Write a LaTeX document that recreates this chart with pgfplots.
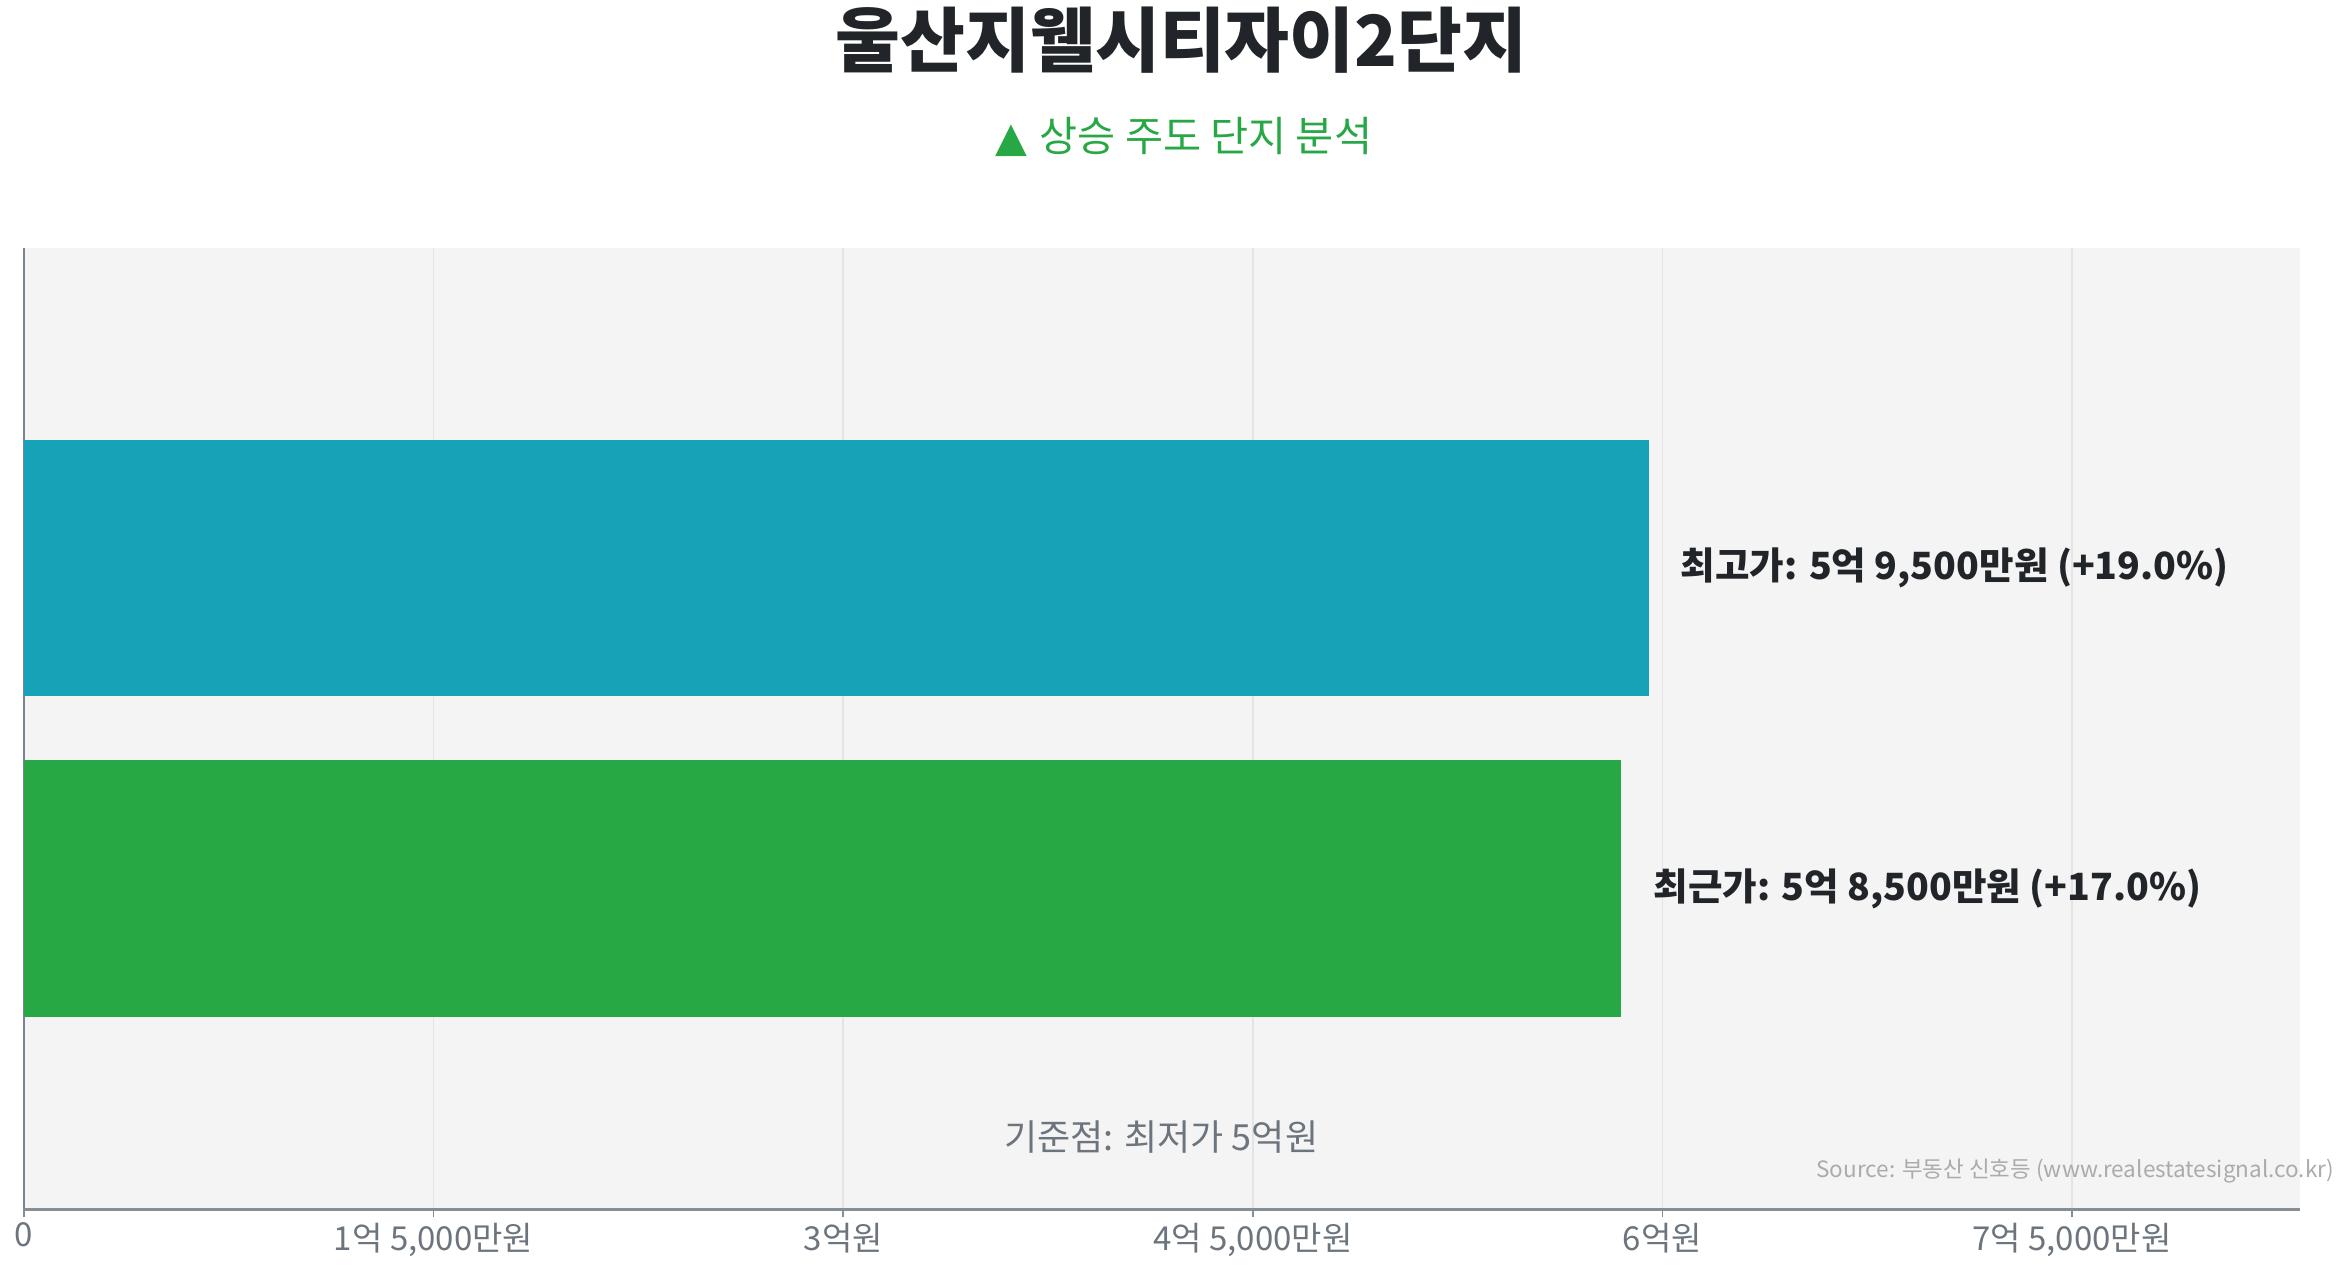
\documentclass[border=0pt]{standalone}
\usepackage{pgfplots}
\pgfplotsset{compat=1.18}
\usepackage{fontspec}
\setmainfont{Noto Sans CJK KR}
\newfontfamily\symfont{DejaVu Sans}
\definecolor{titlecol}{HTML}{212529}
\definecolor{subcol}{HTML}{28A745}
\definecolor{barteal}{HTML}{17A2B8}
\definecolor{bargreen}{HTML}{28A745}
\definecolor{bgcol}{HTML}{F4F4F4}
\definecolor{gridcol}{HTML}{E4E4E4}
\definecolor{xaxcol}{HTML}{868E96}
\definecolor{yaxcol}{HTML}{7A8391}
\definecolor{tickcol}{HTML}{6C757D}
\definecolor{srccol}{HTML}{ABABAB}
\begin{document}
\begin{tikzpicture}[x=1bp,y=1bp]
\useasboundingbox (0,0) rectangle (781.5,422.5);
\begin{axis}[
  at={(8bp,19.5bp)}, anchor=south west,
  scale only axis, width=758.5bp, height=320.5bp,
  xmin=0, xmax=8.335, ymin=-1, ymax=2,
  bar width=0.8,
  axis background/.style={fill=bgcol},
  axis x line*=bottom, axis y line*=left,
  axis line style={-},
  x axis line style={draw=xaxcol, line width=1bp},
  y axis line style={draw=yaxcol, line width=0.5bp},
  xtick={0,1.5,3,4.5,6,7.5},
  xticklabels={0,{1억 5,000만원},{3억원},{4억 5,000만원},{6억원},{7억 5,000만원}},
  ytick=\empty,
  xmajorgrids, grid style={draw=gridcol, line width=0.5bp},
  tick align=outside, major tick length=2.5bp,
  x tick style={draw=xaxcol, line width=0.5bp},
  xticklabel style={font=\fontsize{11bp}{13bp}\selectfont, text=tickcol, yshift=1.5bp},
  nodes near coords style={font=\fontsize{12.5bp}{15bp}\selectfont\bfseries, text=titlecol, anchor=west, inner sep=0pt, xshift=10.5bp},
]
\addplot[xbar, bar shift=0pt, fill=barteal, draw=none, nodes near coords, point meta=explicit symbolic]
  coordinates {(5.95,1) [최고가: 5억 9,500만원 (+19.0\%)]};
\addplot[xbar, bar shift=0pt, fill=bargreen, draw=none, nodes near coords, point meta=explicit symbolic]
  coordinates {(5.85,0) [최근가: 5억 8,500만원 (+17.0\%)]};
\end{axis}
\node[anchor=base, text=titlecol, font=\fontsize{23.5bp}{28bp}\selectfont\bfseries] at (393.75,400.5) {울산지웰시티자이2단지};
\node[anchor=base, text=subcol, font=\fontsize{13.8bp}{16bp}\selectfont] at (394.5,372) {{\symfont ▲}\hspace{0.3em}상승 주도 단지 분석};
\node[anchor=base, text=tickcol, font=\fontsize{12bp}{14bp}\selectfont] at (387,39) {기준점: 최저가 5억원};
\node[anchor=base east, text=srccol, font=\fontsize{7.5bp}{9bp}\selectfont, inner sep=0pt] at (778,30) {Source: 부동산 신호등 (www.realestatesignal.co.kr)};
\end{tikzpicture}
\end{document}
